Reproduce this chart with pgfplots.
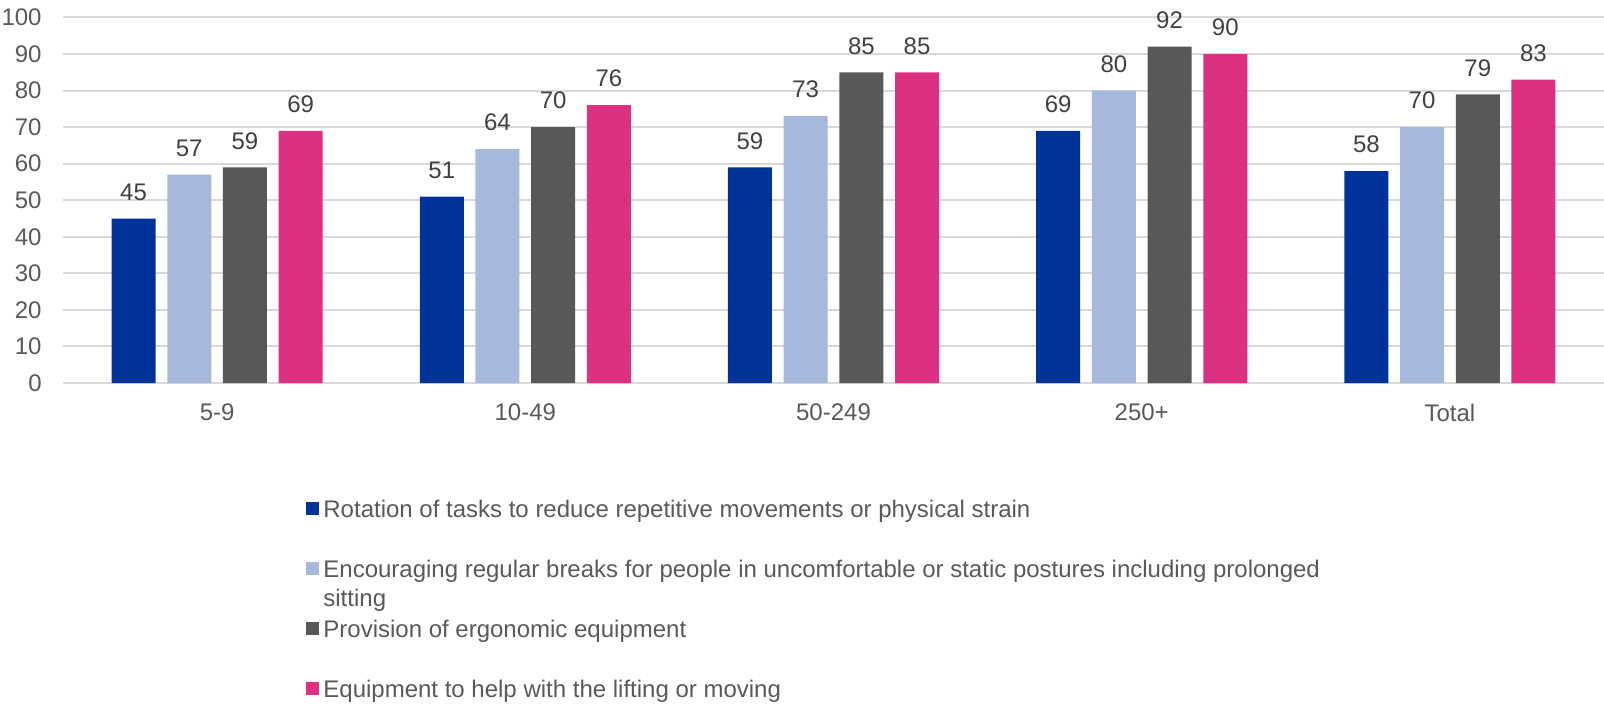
\documentclass[border=0pt]{standalone}
\usepackage{pgfplots}
\pgfplotsset{compat=1.18}
\usepackage{fontspec}
\setmainfont{Liberation Sans}

\definecolor{cBlue}{HTML}{003399}
\definecolor{cLight}{HTML}{A6B8DB}
\definecolor{cGray}{HTML}{58585A}
\definecolor{cPink}{HTML}{DC3081}
\definecolor{cGrid}{HTML}{D9D9D9}
\definecolor{cTick}{HTML}{595959}
\definecolor{cLabel}{HTML}{404040}

\begin{document}
\begin{tikzpicture}
\path[use as bounding box] (0,0) rectangle (802pt,353.5pt);
\begin{axis}[
  at={(31.5pt,162pt)}, anchor=south west,
  scale only axis,
  width=770.5pt, height=182.75pt,
  ybar=5.85pt, bar width=22pt,
  xmin=-0.5, xmax=4.5,
  ymin=0, ymax=100,
  xtick=data,
  xticklabels={5-9,10-49,50-249,250+,Total},
  ytick={0,10,...,100},
  ymajorgrids,
  grid style={cGrid, line width=1pt},
  axis line style={draw=none},
  tick style={draw=none},
  /pgf/number format/assume math mode=true,
  ticklabel style={font=\fontsize{12}{14}\selectfont, text=cTick},
  yticklabel style={inner sep=0pt, anchor=east, xshift=-10.5pt},
  xticklabel style={inner sep=0pt, anchor=north, yshift=-6pt},
  nodes near coords,
  nodes near coords style={font=\fontsize{12}{14}\selectfont, text=cLabel,
    anchor=south, inner sep=0pt, yshift=8.8pt},
  legend cell align=left,
  legend image code/.code={\fill[#1] (0pt,-3.25pt) rectangle (6.5pt,3.25pt);},
  legend style={at={(0.1577,-0.32)}, anchor=north west, draw=none,
    fill=none, inner sep=0pt, row sep=21.4pt,
    font=\fontsize{12}{14.6}\selectfont, text=cTick,
    nodes={inner sep=0pt, text height=8.6pt, text depth=0pt},
    cells={anchor=west},
    /tikz/every odd column/.append style={column sep=2pt}},
]
\addplot[fill=cBlue, draw=none] coordinates {(0,45) (1,51) (2,59) (3,69) (4,58)};
\addplot[fill=cLight, draw=none] coordinates {(0,57) (1,64) (2,73) (3,80) (4,70)};
\addplot[fill=cGray, draw=none] coordinates {(0,59) (1,70) (2,85) (3,92) (4,79)};
\addplot[fill=cPink, draw=none] coordinates {(0,69) (1,76) (2,85) (3,90) (4,83)};
\legend{Rotation of tasks to reduce repetitive movements or physical strain,
  {\parbox[t]{600pt}{Encouraging regular breaks for people in uncomfortable or static postures including prolonged\\sitting}},
  Provision of ergonomic equipment,
  Equipment to help with the lifting or moving}
\end{axis}
\end{tikzpicture}
\end{document}
